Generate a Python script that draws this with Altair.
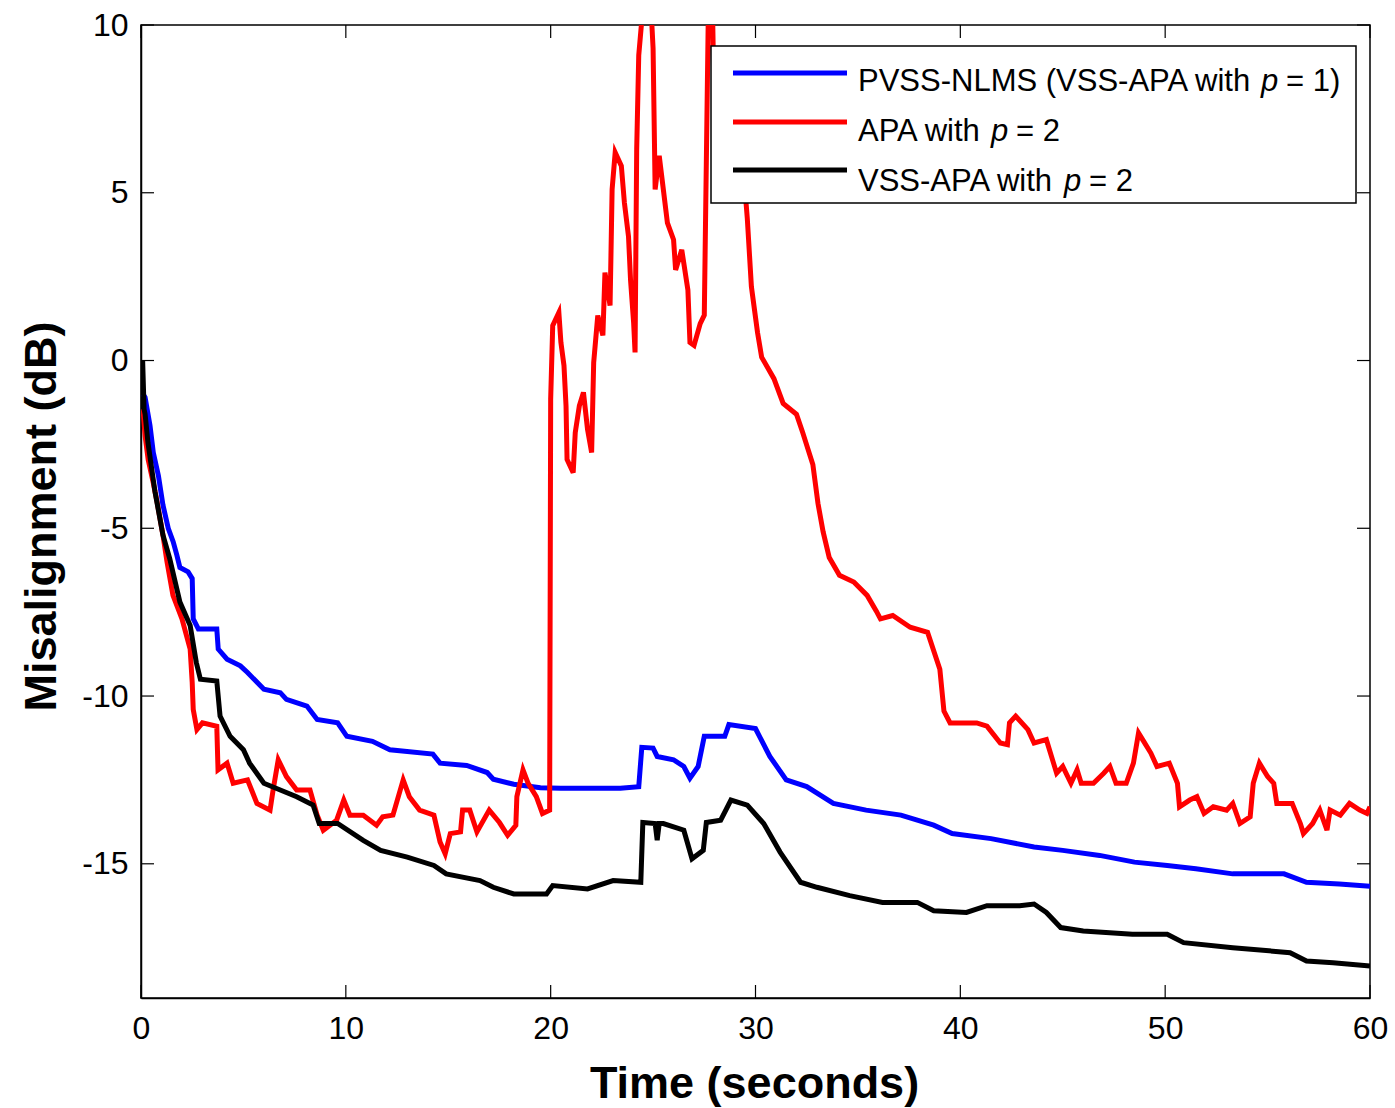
import altair as alt
import pandas as pd

# ---------------- data ----------------
series_names = ["PVSS-NLMS (VSS-APA with p = 1)", "APA with p = 2", "VSS-APA with p = 2"]
series_colors = ["#0000ff", "#ff0000", "#000000"]
legend_prefix = ["PVSS-NLMS (VSS-APA with ", "APA with ", "VSS-APA with "]
legend_var = ["p", "p", "p"]
legend_suffix = ["= 1)", "= 2", "= 2"]

x_ticks = [0, 10, 20, 30, 40, 50, 60]
y_ticks = [-15, -10, -5, 0, 5, 10]

t_blue = [0.1, 0.2, 0.44, 0.6, 0.85, 1.07, 1.33, 1.57, 1.75, 1.9, 2.3, 2.5, 2.55, 2.8, 3.7,
          3.77, 4.2, 4.85, 5.2, 6.0, 6.8, 7.1, 8.1, 8.6, 9.6, 10.05, 11.3, 12.15, 14.25, 14.6,
          15.9, 16.9, 17.2, 18.2, 19.5, 20.5, 23.4, 24.3, 24.45, 25.0, 25.2, 26.0, 26.5, 26.8, 27.2,
          27.5, 28.5, 28.7, 30.0, 30.7, 31.5, 32.5, 33.8, 35.4, 37.1, 38.7, 39.6, 41.5, 43.6, 45.0,
          46.8, 48.5, 50.1, 51.5, 53.3, 55.8, 56.9, 58.5, 60.0]
v_blue = [-1.0, -1.1, -1.94, -2.74, -3.43, -4.3, -5.0, -5.4, -5.8, -6.17, -6.3, -6.5, -7.7, -8.0, -8.0,
          -8.6, -8.9, -9.1, -9.3, -9.8, -9.9, -10.1, -10.3, -10.7, -10.8, -11.2, -11.35, -11.6, -11.73, -12.0,
          -12.07, -12.28, -12.48, -12.63, -12.73, -12.75, -12.75, -12.7, -11.53, -11.55, -11.8, -11.9, -12.1, -12.45, -12.1,
          -11.2, -11.2, -10.85, -10.97, -11.8, -12.5, -12.7, -13.2, -13.4, -13.55, -13.85, -14.1, -14.25, -14.5, -14.6,
          -14.75, -14.95, -15.05, -15.15, -15.3, -15.3, -15.55, -15.6, -15.67]

t_red = [0.1, 0.2, 0.35, 0.6, 0.78, 1.07, 1.27, 1.56, 2.0, 2.4, 2.5, 2.55, 2.73, 3.0, 3.7,
         3.76, 4.2, 4.5, 5.2, 5.66, 6.3, 6.45, 6.7, 7.1, 7.6, 8.25, 8.6, 8.9, 9.55, 9.9,
         10.2, 10.85, 11.5, 11.8, 12.3, 12.8, 13.1, 13.6, 14.3, 14.6, 14.85, 15.1, 15.6, 15.7, 16.05,
         16.4, 17.0, 17.5, 17.9, 18.3, 18.35, 18.65, 18.9, 19.3, 19.6, 19.95, 20.0, 20.1, 20.4, 20.5,
         20.65, 20.75, 20.8, 21.1, 21.2, 21.4, 21.6, 21.8, 22.0, 22.1, 22.3, 22.55, 22.65, 22.9, 23.0,
         23.15, 23.45, 23.6, 23.8, 23.9, 24.05, 24.12, 24.2, 24.3, 24.5, 24.9, 25.0, 25.1, 25.3, 25.5,
         25.7, 26.0, 26.1, 26.4, 26.7, 26.8, 27.0, 27.3, 27.5, 27.7, 27.9, 28.0, 29.0, 29.5, 29.6, 29.8,
         30.1, 30.3, 30.9, 31.35, 32.0, 32.3, 32.8, 33.05, 33.3, 33.6, 34.1, 34.8, 35.45, 35.9, 36.1,
         36.7, 37.55, 38.4, 39.0, 39.2, 39.5, 40.8, 41.3, 41.95, 42.3, 42.4, 42.7, 43.3, 43.6, 44.2,
         44.55, 44.7, 45.0, 45.4, 45.7, 45.9, 46.5, 47.0, 47.3, 47.6, 48.1, 48.45, 48.7, 48.9, 49.3,
         49.6, 50.2, 50.6, 50.7, 51.2, 51.55, 51.9, 52.35, 53.0, 53.3, 53.65, 54.15, 54.3, 54.6, 55.0,
         55.3, 55.45, 55.9, 56.2, 56.6, 56.75, 57.2, 57.55, 57.9, 58.05, 58.55, 59.0, 59.5, 59.85, 60.0]
v_red = [-1.45, -2.25, -2.95, -3.65, -4.2, -5.2, -6.0, -7.0, -7.7, -8.6, -9.6, -10.4, -11.0, -10.8, -10.9,
         -12.2, -12.0, -12.6, -12.5, -13.2, -13.4, -12.8, -11.9, -12.4, -12.8, -12.8, -13.55, -14.0, -13.7, -13.1,
         -13.55, -13.55, -13.85, -13.6, -13.55, -12.5, -13.0, -13.4, -13.55, -14.35, -14.7, -14.1, -14.05, -13.4, -13.4,
         -14.05, -13.4, -13.77, -14.15, -13.85, -13.0, -12.2, -12.6, -13.0, -13.5, -13.4, -1.15, 1.04, 1.43, 0.54,
         -0.15, -1.35, -2.95, -3.34, -2.15, -1.35, -0.95, -2.05, -2.74, -0.06, 1.34, 0.75, 2.62, 1.64, 5.1,
         6.2, 5.8, 4.7, 3.7, 2.4, 1.13, 0.24, 6.3, 9.1, 10.5, 10.5, 9.3, 5.1, 6.1, 5.1,
         4.1, 3.6, 2.7, 3.3, 2.1, 0.54, 0.45, 1.1, 1.35, 10.5, 10.5, 7.0, 6.5, 5.0, 4.23, 2.2,
         0.83, 0.1, -0.54, -1.28, -1.6, -2.14, -3.1, -4.26, -5.1, -5.87, -6.4, -6.6, -7.0, -7.47, -7.7,
         -7.6, -7.95, -8.1, -9.2, -10.45, -10.8, -10.8, -10.9, -11.4, -11.45, -10.8, -10.6, -11.0, -11.4, -11.3,
         -12.0, -12.3, -12.1, -12.6, -12.2, -12.6, -12.6, -12.3, -12.1, -12.6, -12.6, -12.0, -11.1, -11.3, -11.7,
         -12.1, -12.0, -12.6, -13.3, -13.1, -13.0, -13.5, -13.3, -13.4, -13.2, -13.8, -13.6, -12.6, -12.0, -12.4,
         -12.6, -13.2, -13.2, -13.2, -13.8, -14.1, -13.8, -13.4, -14.0, -13.4, -13.55, -13.2, -13.4, -13.5, -13.3]

t_black = [0.08, 0.15, 0.2, 0.34, 0.68, 1.07, 1.4, 1.9, 2.4, 2.7, 2.9, 3.7, 3.86, 4.35, 5.0,
           5.3, 6.0, 6.8, 7.6, 8.4, 8.7, 9.6, 10.85, 11.7, 13.0, 14.3, 14.9, 16.55, 17.2, 18.2,
           19.8, 20.1, 21.8, 23.05, 24.4, 24.5, 25.1, 25.2, 25.3, 25.5, 26.5, 26.9, 27.45, 27.6, 28.3,
           28.8, 29.6, 30.4, 31.2, 32.2, 33.0, 34.6, 36.2, 37.9, 38.7, 40.3, 41.3, 42.9, 43.6, 44.2,
           44.9, 46.0, 48.4, 50.1, 50.9, 53.3, 56.1, 56.9, 58.2, 60.0]
v_black = [0.0, -1.45, -1.6, -2.45, -3.9, -5.2, -5.9, -7.2, -7.9, -9.0, -9.5, -9.55, -10.6, -11.2, -11.6,
           -12.0, -12.6, -12.8, -13.0, -13.25, -13.8, -13.8, -14.3, -14.6, -14.8, -15.05, -15.3, -15.5, -15.7, -15.9,
           -15.9, -15.65, -15.75, -15.5, -15.55, -13.77, -13.8, -14.3, -13.8, -13.8, -14.0, -14.85, -14.6, -13.77, -13.7,
           -13.1, -13.25, -13.8, -14.65, -15.55, -15.7, -15.95, -16.15, -16.15, -16.4, -16.45, -16.25, -16.25, -16.2, -16.45,
           -16.9, -17.0, -17.1, -17.1, -17.35, -17.5, -17.65, -17.9, -17.95, -18.05]

# ---------------- layout / style ----------------
W, H = 1229, 973
FONT = "Liberation Sans"
TICK = 13
LW = 5
LEG_FS = 31

xs = alt.Scale(domain=[0, 60], nice=False, zero=False)
ys = alt.Scale(domain=[-19, 10], nice=False, zero=False)

x_axis = alt.Axis(values=x_ticks, title="Time (seconds)", labelPadding=15,
                  labelExpr="'' + datum.value", titleFontSize=45,
                  titleX=613, titleY=99, titleBaseline="alphabetic", labelFlush=False)
y_axis = alt.Axis(values=y_ticks, title="Misalignment (dB)", labelPadding=13,
                  labelExpr="'' + datum.value", titleFontSize=45,
                  titleX=-86, titleY=491, titleBaseline="alphabetic", titleAngle=270,
                  labelFlush=False)

layers = []
for name, color, ts, vs in zip(series_names, series_colors,
                               [t_blue, t_red, t_black], [v_blue, v_red, v_black]):
    d = pd.DataFrame({"t": ts, "v": vs, "series": name})
    layers.append(
        alt.Chart(d).mark_line(color=color, strokeWidth=LW, clip=True).encode(
            x=alt.X("t:Q", scale=xs, axis=x_axis),
            y=alt.Y("v:Q", scale=ys, axis=y_axis),
        )
    )

# inward ticks on all four sides (MATLAB style box)
xt = pd.DataFrame({"t": x_ticks})
yt = pd.DataFrame({"v": y_ticks})
layers.append(alt.Chart(xt).mark_rule(color="black", strokeWidth=1.2).encode(
    x=alt.X("t:Q", scale=xs, axis=x_axis), y=alt.value(H - TICK), y2=alt.value(H)))
layers.append(alt.Chart(xt).mark_rule(color="black", strokeWidth=1.2).encode(
    x=alt.X("t:Q", scale=xs, axis=x_axis), y=alt.value(0), y2=alt.value(TICK)))
layers.append(alt.Chart(yt).mark_rule(color="black", strokeWidth=1.2).encode(
    y=alt.Y("v:Q", scale=ys, axis=y_axis), x=alt.value(0), x2=alt.value(TICK)))
layers.append(alt.Chart(yt).mark_rule(color="black", strokeWidth=1.2).encode(
    y=alt.Y("v:Q", scale=ys, axis=y_axis), x=alt.value(W - TICK), x2=alt.value(W)))

# legend box
box = pd.DataFrame({"k": [0]})
layers.append(alt.Chart(box).mark_rect(fill="white", stroke="black", strokeWidth=1.5).encode(
    x=alt.value(570), x2=alt.value(1215), y=alt.value(21), y2=alt.value(178)))

row_line_y = [48, 97, 145]
row_base_y = [66, 116, 166]
var_x = [1120, 850, 923]
suf_x = [1145, 875, 948]
for i in range(3):
    rd = pd.DataFrame({"pre": [legend_prefix[i]], "var": [legend_var[i]], "suf": [legend_suffix[i]]})
    layers.append(alt.Chart(rd).mark_rule(color=series_colors[i], strokeWidth=LW).encode(
        x=alt.value(592), x2=alt.value(706), y=alt.value(row_line_y[i])))
    layers.append(alt.Chart(rd).mark_text(font=FONT, fontSize=LEG_FS, align="left",
                                          baseline="alphabetic", color="black").encode(
        x=alt.value(717), y=alt.value(row_base_y[i]), text="pre:N"))
    layers.append(alt.Chart(rd).mark_text(font=FONT, fontSize=LEG_FS, fontStyle="italic", align="left",
                                          baseline="alphabetic", color="black").encode(
        x=alt.value(var_x[i]), y=alt.value(row_base_y[i]), text="var:N"))
    layers.append(alt.Chart(rd).mark_text(font=FONT, fontSize=LEG_FS, align="left",
                                          baseline="alphabetic", color="black").encode(
        x=alt.value(suf_x[i]), y=alt.value(row_base_y[i]), text="suf:N"))

chart = alt.layer(*layers).properties(
    width=W, height=H,
    autosize=alt.AutoSizeParams(type="none"),
    padding={"left": 141, "top": 25, "right": 25, "bottom": 110},
    background="white",
).configure_view(
    stroke="black", strokeWidth=1.5
).configure_axis(
    grid=False, ticks=False, domainColor="black", domainWidth=1.5,
    labelColor="black", labelFont=FONT, labelFontSize=32,
    titleColor="black", titleFont=FONT, titleFontWeight="bold",
)

chart.save("out.html", embed_options={"renderer": "svg", "actions": False})
